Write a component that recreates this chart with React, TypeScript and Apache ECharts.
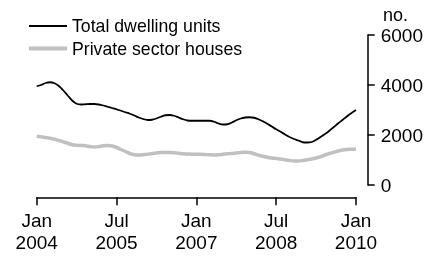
import React, { useEffect, useRef } from "react";
import * as echarts from "echarts";

// Monthly, Jan 2004 .. Jan 2010 (73 months)
const startYear = 2004;
const months: string[] = Array.from({ length: 73 }, (_, i) => {
  const y = startYear + Math.floor(i / 12);
  const m = (i % 12) + 1;
  return `${y}-${m < 10 ? "0" + m : m}`;
});

const xTickLabels = ["Jan\n2004", "Jul\n2005", "Jan\n2007", "Jul\n2008", "Jan\n2010"];
const yTicks = [0, 2000, 4000, 6000];

const totalDwellingUnits = [
  3950, 4000, 4080, 4110, 4070, 3960, 3780, 3580, 3380, 3250, 3220, 3230,
  3240, 3240, 3220, 3180, 3130, 3080, 3030, 2970, 2910, 2850, 2780, 2700,
  2640, 2600, 2610, 2660, 2730, 2790, 2800, 2770, 2700, 2630, 2580, 2570,
  2570, 2570, 2570, 2570, 2530, 2460, 2420, 2430, 2500, 2590, 2660, 2700,
  2710, 2690, 2630, 2550, 2450, 2340, 2230, 2130, 2020, 1920, 1840, 1780,
  1710, 1700, 1720, 1810, 1920, 2040, 2170, 2320, 2470, 2610, 2750, 2880,
  3000,
];

const privateSectorHouses = [
  1950, 1930, 1900, 1870, 1830, 1780, 1730, 1670, 1610, 1590, 1580, 1570,
  1540, 1520, 1540, 1570, 1580, 1560, 1500, 1420, 1340, 1260, 1210, 1200,
  1210, 1230, 1260, 1280, 1300, 1300, 1300, 1290, 1270, 1250, 1240, 1230,
  1230, 1230, 1220, 1210, 1200, 1210, 1230, 1250, 1260, 1280, 1300, 1310,
  1300, 1250, 1190, 1150, 1110, 1080, 1060, 1040, 1010, 980, 960, 960,
  980, 1010, 1040, 1080, 1130, 1200, 1260, 1310, 1360, 1400, 1420, 1430,
  1440,
];

const FONT = "'Liberation Sans', Arial, sans-serif";
const BLACK = "#000";
const GREY = "#c0c0c0";

export default function App() {
  const ref = useRef<HTMLDivElement>(null);
  useEffect(() => {
    document.body.style.margin = "0";
    if (!ref.current) return;
    const chart = echarts.init(ref.current, undefined, { renderer: "svg" });
    chart.setOption({
      animation: false,
      textStyle: { fontFamily: FONT, color: "#000" },
      grid: { left: 36.7, right: 71, top: 35, bottom: 74 },
      legend: {
        orient: "vertical",
        left: 27,
        top: 17,
        padding: 0,
        itemGap: 4.6,
        itemWidth: 38,
        itemHeight: 14,
        itemTextGap: 5,
        itemStyle: { opacity: 0 },
        textStyle: { fontSize: 17.7, lineHeight: 18, color: "#000", fontFamily: FONT },
        data: [
          { name: "Total dwelling units", lineStyle: { width: 1.8, color: BLACK } },
          { name: "Private sector houses", lineStyle: { width: 4, color: GREY } },
        ],
      },
      graphic: [
        {
          type: "text",
          left: 383,
          top: 6,
          style: { text: "no.", fontSize: 18, fill: "#000", fontFamily: FONT },
        },
      ],
      xAxis: {
        type: "value",
        min: 0,
        max: months.length - 1,
        interval: 18,
        offset: 12.3,
        axisLine: { show: true, onZero: false, lineStyle: { color: "#000", width: 1.5 } },
        axisTick: { show: true, length: 8, lineStyle: { color: "#000", width: 1.5 } },
        splitLine: { show: false },
        axisLabel: {
          margin: 12,
          fontSize: 19,
          lineHeight: 22,
          color: "#000",
          fontFamily: FONT,
          formatter: (v: number) => xTickLabels[Math.round(v / 18)] ?? "",
        },
      },
      yAxis: {
        type: "value",
        position: "right",
        min: yTicks[0],
        max: yTicks[yTicks.length - 1],
        interval: 2000,
        offset: 11.7,
        axisLine: { show: true, onZero: false, lineStyle: { color: "#000", width: 1.5 } },
        axisTick: { show: true, length: 7, lineStyle: { color: "#000", width: 1.5 } },
        splitLine: { show: false },
        axisLabel: {
          margin: 13,
          fontSize: 19,
          color: "#000",
          fontFamily: FONT,
          formatter: (v: number) => String(v),
        },
      },
      series: [
        {
          name: "Total dwelling units",
          type: "line",
          symbol: "none",
          smooth: 0.3,
          lineStyle: { color: BLACK, width: 1.8 },
          itemStyle: { color: BLACK },
          data: totalDwellingUnits.map((v, i) => [i, v]),
        },
        {
          name: "Private sector houses",
          type: "line",
          symbol: "none",
          smooth: 0.3,
          lineStyle: { color: GREY, width: 3.5 },
          itemStyle: { color: GREY },
          data: privateSectorHouses.map((v, i) => [i, v]),
        },
      ],
    });
    return () => chart.dispose();
  }, []);
  return (
    <div
      ref={ref}
      style={{ position: "fixed", left: 0, top: 0, width: 427, height: 259 }}
    />
  );
}
